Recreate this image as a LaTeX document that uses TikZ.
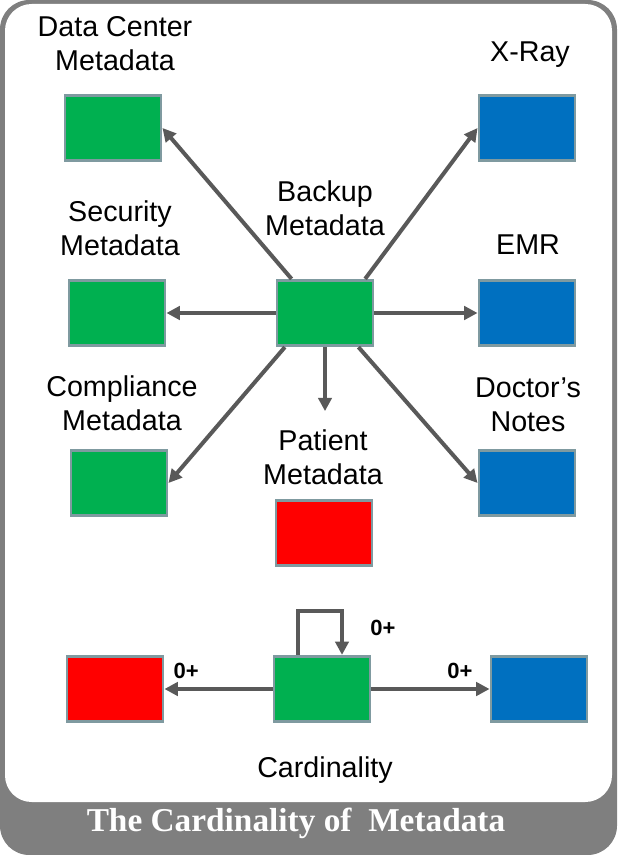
\documentclass[tikz,border=0pt]{standalone}
\usepackage{fontspec}
\setmainfont{Liberation Sans}
\newfontfamily\titlefont{Liberation Serif}
\usetikzlibrary{arrows.meta,positioning}
\definecolor{boxgreen}{HTML}{00B050}
\definecolor{boxblue}{HTML}{0070C0}
\definecolor{boxred}{HTML}{FF0000}
\definecolor{boxedge}{HTML}{7F9AA0}
\definecolor{arrowgray}{HTML}{595959}
\definecolor{framegray}{HTML}{7F7F7F}
\begin{document}
\begin{tikzpicture}[
    x=0.75pt, y=-0.75pt,
    font=\fontsize{21.5}{25.5}\selectfont,
    >={Triangle[length=10pt,width=10pt]},
    block/.style={draw=boxedge, line width=2.2pt, minimum width=72pt, minimum height=49pt, inner sep=0pt},
    green/.style={block, fill=boxgreen},
    blue/.style={block, fill=boxblue},
    red/.style={block, fill=boxred},
    label/.style={align=center},
    card/.style={font=\fontsize{16.5}{19}\selectfont\bfseries},
    line/.style={->, line width=3pt, draw=arrowgray}
]
\useasboundingbox (0,0) rectangle (617,855);

% Frame
\fill[framegray, rounded corners=22pt] (0,0) rectangle (617,855);
\fill[white, rounded corners=20pt] (5,4) rectangle (612,802);
\node[text=white, font=\titlefont\fontsize{25}{30}\selectfont\bfseries] (title) at (296,823) {The Cardinality of\ \ Metadata};

% Boxes
\node[green] (backup) at (325,313) {};
\node[green] (dc) at (113,128) {};
\node[green] (sec) at (117,313) {};
\node[green] (comp) at (119,483) {};
\node[blue] (xray) at (527,128) {};
\node[blue] (emr) at (527,313) {};
\node[blue] (notes) at (527,483) {};
\node[red] (patient) at (324,533) {};

% Labels
\node[label] (dclbl) at (115,44) {Data Center\\Metadata};
\node[label] (xraylbl) at (530,55) {X-Ray};
\node[label] (backuplbl) at (325,208) {Backup\\Metadata};
\node[label] (seclbl) at (120,228) {Security\\Metadata};
\node[label] (emrlbl) at (528,245) {EMR};
\node[label] (complbl) at (122,403) {Compliance\\Metadata};
\node[label] (noteslbl) at (528,405) {Doctor’s\\Notes};
\node[label] (patientlbl) at (323,457) {Patient\\Metadata};

% Arrows from backup
\draw[line] ([xshift=12pt]backup.north west) -- (dc.east);
\draw[line] ([xshift=-7pt]backup.north east) -- (xray.west);
\draw[line] (backup.west) -- (sec.east);
\draw[line] (backup.east) -- (emr.west);
\draw[line] ([xshift=7pt]backup.south west) -- (comp.east);
\draw[line] ([xshift=-12pt]backup.south east) -- (notes.west);
\draw[line] (backup.south) -- ++(0,64);

% Cardinality
\node[red] (many) at (115,689) {};
\node[green] (one) at (322,689) {};
\node[blue] (other) at (539,689) {};
\node[label] (cardlbl) at (325,770) {Cardinality};
\draw[line] (one.west) -- node[card, above, pos=0.8, yshift=3pt] {0+} (many.east);
\draw[line] (one.east) -- node[card, above, pos=0.75, yshift=3pt] {0+} (other.west);
\draw[line] ([xshift=-18pt]one.north) |- ++(22,-44) coordinate (loop) -| ([xshift=15pt]one.north);
\node[card] (selflbl) at (383,628) {0+};
\end{tikzpicture}
\end{document}
